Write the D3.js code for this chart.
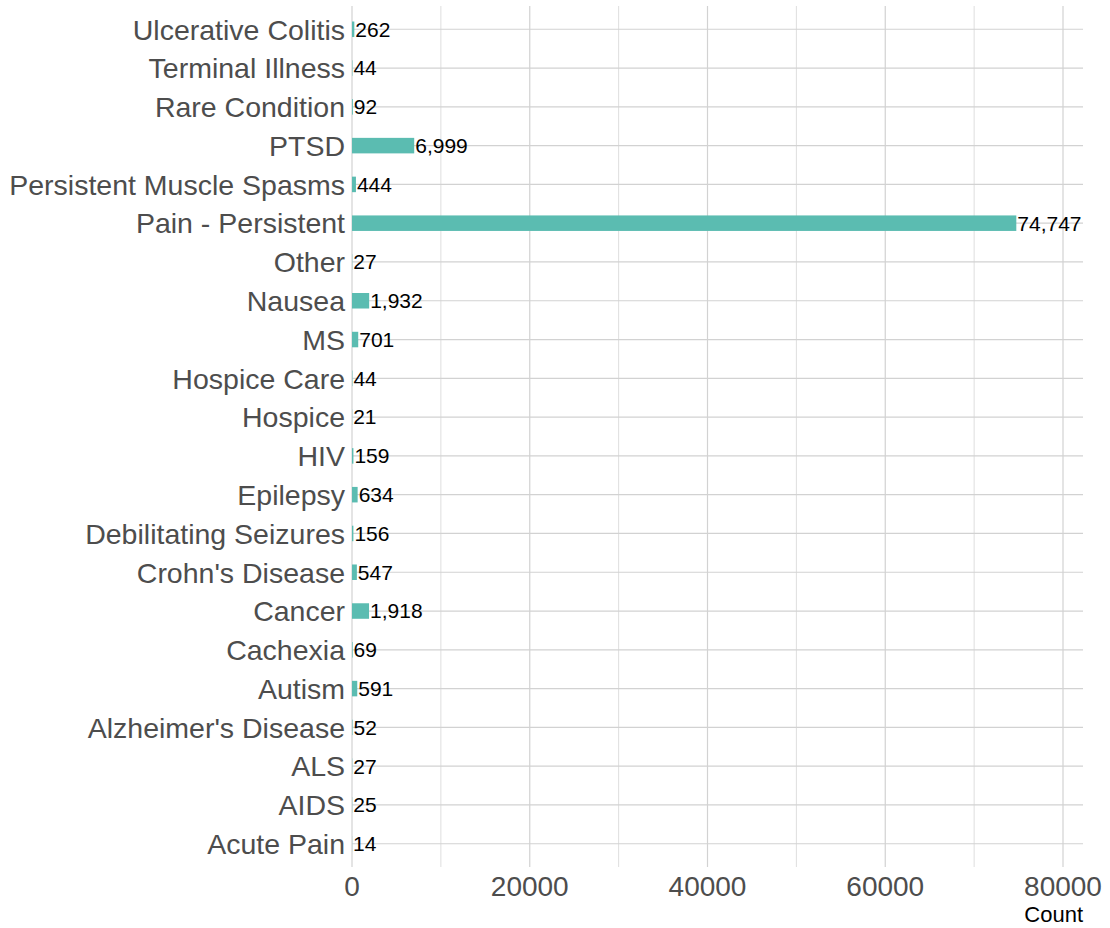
<!DOCTYPE html>
<html>
<head>
<meta charset="utf-8">
<script src="https://cdn.jsdelivr.net/npm/d3@7"></script>
<style>
  body { margin: 0; background: #fff; }
  text { font-family: "Liberation Sans", Arial, sans-serif; }
</style>
</head>
<body>
<div id="chart"></div>
<script>
var conditions = ["Ulcerative Colitis", "Terminal Illness", "Rare Condition", "PTSD",
  "Persistent Muscle Spasms", "Pain - Persistent", "Other", "Nausea", "MS",
  "Hospice Care", "Hospice", "HIV", "Epilepsy", "Debilitating Seizures",
  "Crohn's Disease", "Cancer", "Cachexia", "Autism", "Alzheimer's Disease",
  "ALS", "AIDS", "Acute Pain"];
var counts = [262, 44, 92, 6999, 444, 74747, 27, 1932, 701, 44, 21, 159, 634,
  156, 547, 1918, 69, 591, 52, 27, 25, 14];
var majorTicks = [0, 20000, 40000, 60000, 80000];
var minorTicks = [10000, 30000, 50000, 70000];

var svgWidth = 1110;
var svgHeight = 928;
var margin = { top: 6, right: 27, bottom: 61, left: 352 };
var width = svgWidth - margin.left - margin.right;
var height = svgHeight - margin.top - margin.bottom;

var svg = d3.select("#chart").append("svg")
  .attr("width", svgWidth)
  .attr("height", svgHeight);

var chartGroup = svg.append("g")
  .attr("transform", `translate(${margin.left}, ${margin.top})`);

var x = d3.scaleLinear().domain([0, 82250]).range([0, width]);

// discrete scale with ggplot-like 0.6 expansion
var y = d3.scalePoint().domain(conditions).range([0, height]).padding(0.6);
var step = y.step();

// grid
chartGroup.selectAll(".minor").data(minorTicks).enter().append("line")
  .attr("x1", d => x(d)).attr("x2", d => x(d))
  .attr("y1", 0).attr("y2", height)
  .attr("stroke", "#dedede").attr("stroke-width", 1);

chartGroup.selectAll(".major").data(majorTicks).enter().append("line")
  .attr("x1", d => x(d)).attr("x2", d => x(d))
  .attr("y1", 0).attr("y2", height)
  .attr("stroke", "#d2d2d2").attr("stroke-width", 1.2);

chartGroup.selectAll(".hgrid").data(conditions).enter().append("line")
  .attr("x1", 0).attr("x2", width)
  .attr("y1", d => y(d)).attr("y2", d => y(d))
  .attr("stroke", "#d2d2d2").attr("stroke-width", 1.2);

// bars
var barH = step * 0.4;
chartGroup.selectAll("rect").data(conditions).enter().append("rect")
  .attr("x", x(0))
  .attr("y", d => y(d) - barH / 2)
  .attr("width", (d, i) => x(counts[i]) - x(0))
  .attr("height", barH)
  .attr("fill", "#5bbcb1");

// value labels
chartGroup.selectAll(".val").data(conditions).enter().append("text")
  .attr("x", (d, i) => x(counts[i]) + 1)
  .attr("y", d => y(d))
  .attr("dy", "0.35em")
  .style("font-size", "21px")
  .attr("fill", "#000")
  .text((d, i) => d3.format(",")(counts[i]));

// y axis labels
chartGroup.selectAll(".ylab").data(conditions).enter().append("text")
  .attr("x", -7)
  .attr("y", d => y(d))
  .attr("dy", "0.36em")
  .attr("text-anchor", "end")
  .style("font-size", "28.5px")
  .attr("fill", "#4d4d4d")
  .text(d => d);

// x axis labels
chartGroup.selectAll(".xlab").data(majorTicks).enter().append("text")
  .attr("x", d => x(d))
  .attr("y", height + 29)
  .attr("text-anchor", "middle")
  .style("font-size", "28px")
  .attr("fill", "#4d4d4d")
  .text(d => d);

chartGroup.append("text")
  .attr("x", width)
  .attr("y", height + 55)
  .attr("text-anchor", "end")
  .style("font-size", "22px")
  .attr("fill", "#000")
  .text("Count");
</script>
</body>
</html>
